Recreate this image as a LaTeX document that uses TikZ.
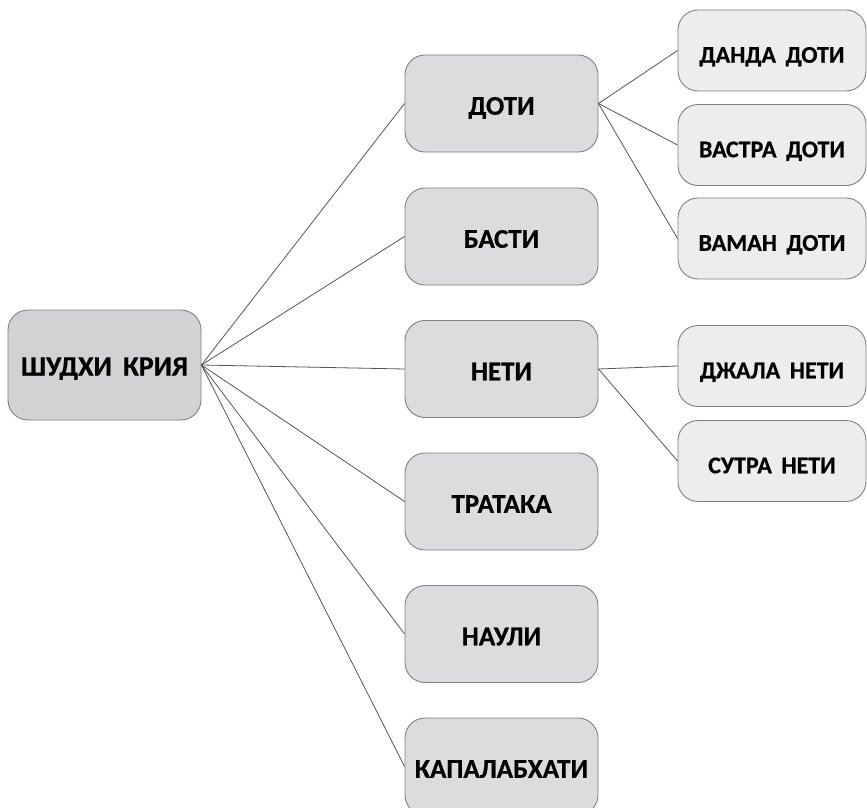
\documentclass[tikz,border=0pt]{standalone}
\usepackage{fontspec}
\setmainfont{Carlito}[BoldFeatures={FakeBold=0.6}]
\definecolor{rootfill}{HTML}{D2D2D4}
\definecolor{midfill}{HTML}{DCDCDE}
\definecolor{leaffill}{HTML}{EDEDED}
\definecolor{edgegray}{HTML}{808080}
\definecolor{linegray}{HTML}{555555}
\tikzset{
  box/.style={draw=edgegray, line width=0.9pt, rounded corners=20pt, align=center,
    text=black, inner sep=0pt, text depth=0pt},
  rootbox/.style={box, fill=rootfill, minimum width=193pt, minimum height=110pt,
    font=\fontsize{28}{32}\selectfont\bfseries, text height=21pt},
  midbox/.style={box, fill=midfill, minimum width=193pt, minimum height=97pt,
    font=\fontsize{27}{31}\selectfont\bfseries, text height=22.5pt},
  leafbox/.style={box, fill=leaffill, minimum width=188pt, minimum height=81pt,
    font=\fontsize{24}{28}\selectfont\bfseries, text height=24.5pt},
  conn/.style={draw=linegray, line width=0.8pt}
}
\newcommand{\wsp}{\hspace{0.4em}}
\begin{document}
\begin{tikzpicture}[x=1pt,y=-1pt]
\useasboundingbox (0,0) rectangle (867,808);
\node[rootbox] (root) at (104.5,365) {ШУДХИ\wsp КРИЯ};
\node[midbox] (doti) at (501.5,103.5) {ДОТИ};
\node[midbox] (basti) at (501.5,236.5) {БАСТИ};
\node[midbox] (neti) at (501.5,369) {НЕТИ};
\node[midbox] (trataka) at (501.5,501.5) {ТРАТАКА};
\node[midbox] (nauli) at (501.5,634) {НАУЛИ};
\node[midbox] (kapal) at (501.5,766.5) {КАПАЛАБХАТИ};
\node[leafbox] (danda) at (772,50.5) {ДАНДА\wsp ДОТИ};
\node[leafbox] (vastra) at (772,145) {ВАСТРА\wsp ДОТИ};
\node[leafbox] (vaman) at (772,238.5) {ВАМАН\wsp ДОТИ};
\node[leafbox] (jala) at (772,366) {ДЖАЛА\wsp НЕТИ};
\node[leafbox] (sutra) at (772,461) {СУТРА\wsp НЕТИ};
\foreach \m in {doti,basti,neti,trataka,nauli,kapal}
  \draw[conn] (root.east) -- (\m.west);
\foreach \l in {danda,vastra,vaman}
  \draw[conn] (doti.east) -- (\l.west);
\foreach \l in {jala,sutra}
  \draw[conn] (neti.east) -- (\l.west);
\end{tikzpicture}
\end{document}
